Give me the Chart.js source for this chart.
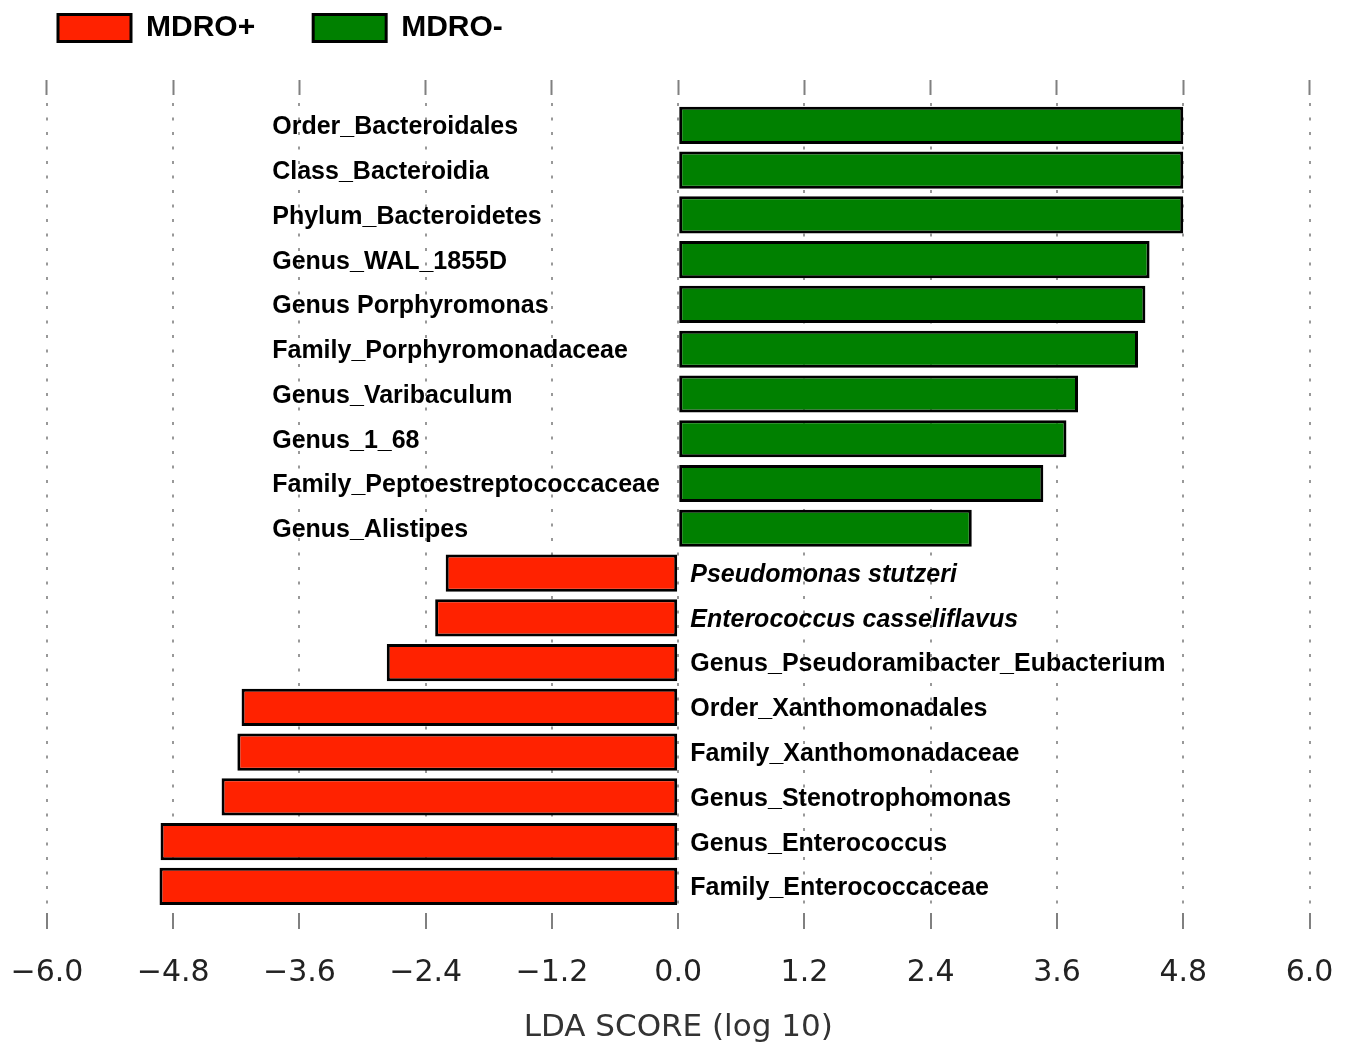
<!DOCTYPE html>
<html>
<head>
<meta charset="utf-8">
<script src="https://cdn.jsdelivr.net/npm/chart.js@4/dist/chart.umd.min.js"></script>
<style>
  html, body { margin: 0; padding: 0; background: #ffffff; }
  #wrap { width: 1353px; height: 1043px; position: relative; }
</style>
</head>
<body>
<div id="wrap"><canvas id="lefse"></canvas></div>
<script>
// Taxa ranked by LDA score (log 10)
const taxa = [
  'Order_Bacteroidales', 'Class_Bacteroidia', 'Phylum_Bacteroidetes', 'Genus_WAL_1855D',
  'Genus Porphyromonas', 'Family_Porphyromonadaceae', 'Genus_Varibaculum', 'Genus_1_68',
  'Family_Peptoestreptococcaceae', 'Genus_Alistipes', 'Pseudomonas stutzeri',
  'Enterococcus casseliflavus', 'Genus_Pseudoramibacter_Eubacterium', 'Order_Xanthomonadales',
  'Family_Xanthomonadaceae', 'Genus_Stenotrophomonas', 'Genus_Enterococcus', 'Family_Enterococcaceae'
];
// Species names are set in italics
const italicTaxa = ['Pseudomonas stutzeri', 'Enterococcus casseliflavus'];

// LDA scores enriched in MDRO+ (negative side)
const mdroPlus = [null, null, null, null, null, null, null, null, null, null,
  -2.21, -2.31, -2.77, -4.15, -4.19, -4.34, -4.92, -4.93];
// LDA scores enriched in MDRO- (positive side)
const mdroMinus = [4.80, 4.80, 4.80, 4.48, 4.44, 4.37, 3.80, 3.69, 3.47, 2.79,
  null, null, null, null, null, null, null, null];

const tickValues = [-6.0, -4.8, -3.6, -2.4, -1.2, 0.0, 1.2, 2.4, 3.6, 4.8, 6.0];
const seriesNames = ['MDRO+', 'MDRO-'];

const RED = '#ff2200';
const GREEN = '#008000';

// Taxon names: MDRO- names sit left of zero, MDRO+ names right of zero
const taxonLabels = {
  id: 'taxonLabels',
  afterDatasetsDraw(chart) {
    const ctx = chart.ctx;
    const xs = chart.scales.x;
    const ys = chart.scales.y;
    const zero = xs.getPixelForValue(0);
    ctx.save();
    ctx.fillStyle = '#000000';
    ctx.textBaseline = 'middle';
    ctx.textAlign = 'left';
    taxa.forEach((name, i) => {
      const y = ys.getPixelForValue(i) + 2;
      const italic = italicTaxa.includes(name);
      ctx.font = (italic ? 'italic ' : '') + 'bold 25px "Liberation Sans", Arial, sans-serif';
      const x = mdroMinus[i] !== null ? zero - 406 : zero + 12;
      ctx.fillText(name, x, y);
    });
    ctx.restore();
  }
};

const fixTicks = (scale) => {
  scale.ticks = tickValues.map(v => ({ value: v }));
};

const barStyle = {
  borderColor: '#000000',
  borderWidth: 3,
  borderSkipped: false,
  grouped: false,
  barPercentage: 0.83,
  categoryPercentage: 1.0
};

new Chart(document.getElementById('lefse'), {
  type: 'bar',
  data: {
    labels: taxa,
    datasets: [
      Object.assign({ label: seriesNames[0], data: mdroPlus, backgroundColor: RED }, barStyle),
      Object.assign({ label: seriesNames[1], data: mdroMinus, backgroundColor: GREEN }, barStyle)
    ]
  },
  options: {
    indexAxis: 'y',
    responsive: true,
    maintainAspectRatio: false,
    animation: false,
    layout: { padding: { left: 0, right: 43.5, top: -45, bottom: -4 } },
    plugins: {
      legend: {
        position: 'top',
        align: 'start',
        labels: {
          boxWidth: 73,
          boxHeight: 27,
          padding: 58,
          color: '#000000',
          font: { family: '"Liberation Sans", Arial, sans-serif', size: 30, weight: 'bold' },
          generateLabels(chart) {
            return chart.data.datasets.map((ds, i) => ({
              text: ds.label,
              fillStyle: ds.backgroundColor,
              strokeStyle: '#000000',
              lineWidth: 3,
              datasetIndex: i,
              fontColor: '#000000'
            }));
          }
        }
      },
      tooltip: { enabled: false }
    },
    scales: {
      y: {
        type: 'category',
        display: true,
        grid: { display: false },
        border: { display: false },
        ticks: { display: false },
        afterFit: (scale) => { scale.width = 43.4; }
      },
      x: {
        type: 'linear',
        position: 'bottom',
        min: -6,
        max: 6,
        z: 1,
        afterBuildTicks: fixTicks,
        border: { display: false, dash: [3, 11.5] },
        grid: {
          color: 'rgba(70,70,70,0.55)',
          lineWidth: 2,
          drawTicks: true,
          tickLength: 36,
          tickColor: '#808080',
          tickWidth: 2,
          tickBorderDash: [0, 4, 16, 100]
        },
        ticks: {
          padding: 10.5,
          color: '#222222',
          font: { family: '"DejaVu Sans", sans-serif', size: 30 },
          callback: (v) => Number(v).toFixed(1).replace('-', '\u2212')
        },
        title: {
          display: true,
          text: 'LDA SCORE (log 10)',
          color: '#333333',
          padding: { top: 8, bottom: 0 },
          font: { family: '"DejaVu Sans", sans-serif', size: 31 }
        }
      },
      xTop: {
        type: 'linear',
        axis: 'x',
        position: 'top',
        min: -6,
        max: 6,
        afterBuildTicks: fixTicks,
        border: { display: false },
        grid: {
          drawOnChartArea: false,
          drawTicks: true,
          tickLength: 50,
          tickColor: '#808080',
          tickWidth: 2,
          tickBorderDash: [0, 27, 15, 100]
        },
        ticks: { display: false }
      }
    }
  },
  plugins: [taxonLabels]
});
</script>
</body>
</html>
